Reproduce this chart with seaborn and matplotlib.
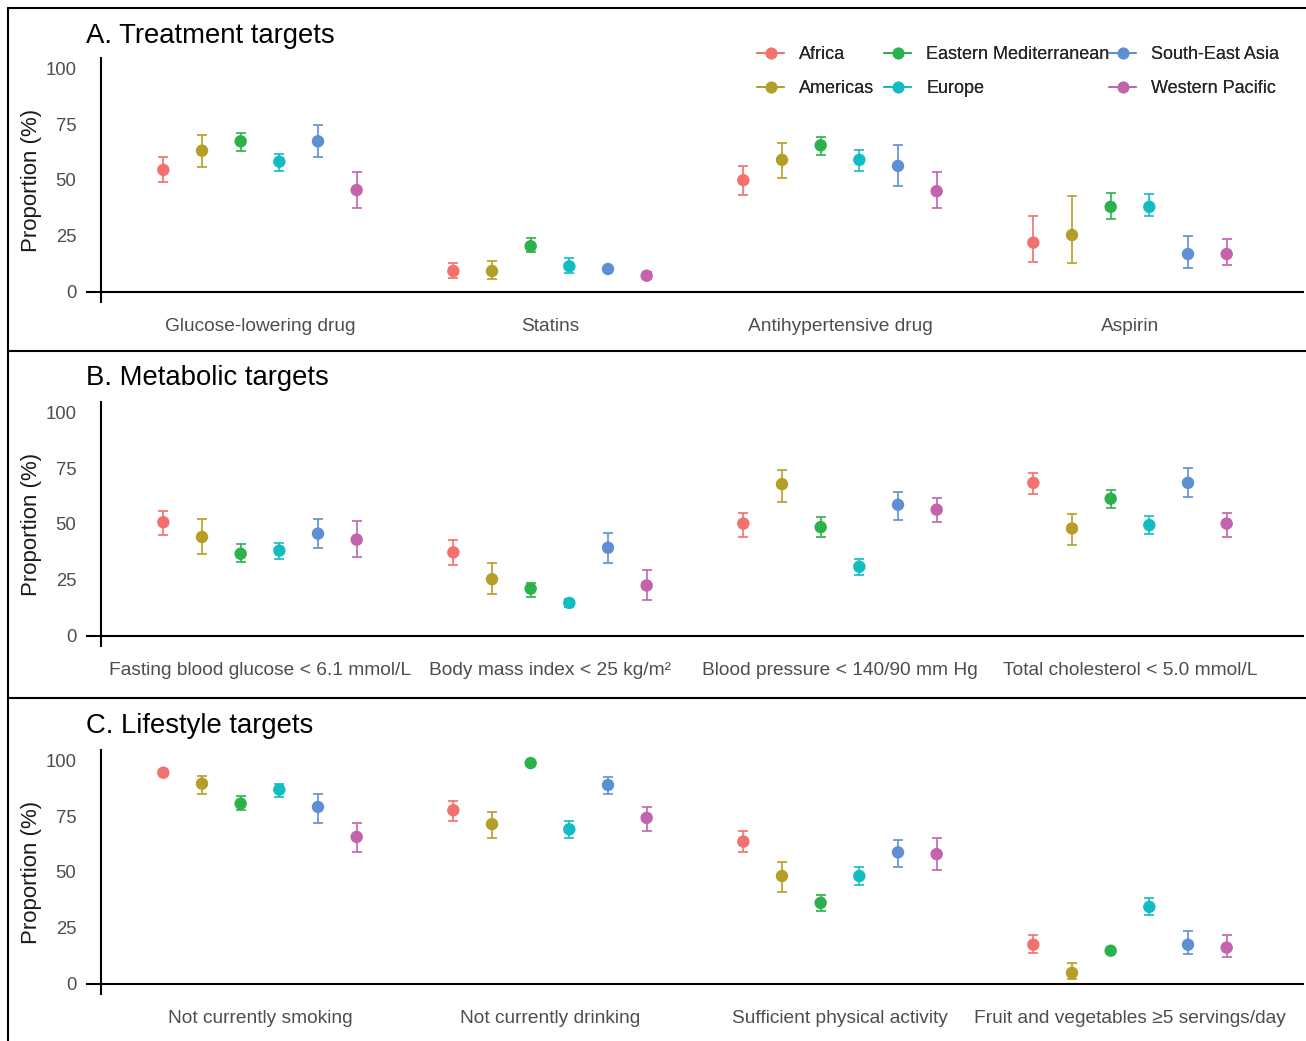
import numpy as np
import pandas as pd
import seaborn as sns
import matplotlib
matplotlib.use("Agg")
import matplotlib.pyplot as plt
from matplotlib.lines import Line2D

sns.set_theme(style="white")
plt.rcParams["font.family"] = ["Liberation Sans", "DejaVu Sans"]

# ---------------------------------------------------------------- data
regions = ["Africa", "Americas", "Eastern Mediterranean", "Europe",
           "South-East Asia", "Western Pacific"]
region_colors = ["#F2706E", "#B59E28", "#2BB24A", "#12BCC3", "#5F8FD3", "#C363AE"]

treat_targets = ["Glucose-lowering drug", "Statins", "Antihypertensive drug", "Aspirin"]
treat_est = {
    "Africa": [54.5, 9.3, 49.9, 22.0],
    "Americas": [63.1, 9.3, 59.0, 25.4],
    "Eastern Mediterranean": [67.3, 20.4, 65.5, 38.0],
    "Europe": [58.2, 11.4, 59.0, 38.0],
    "South-East Asia": [67.3, 10.2, 56.3, 16.9],
    "Western Pacific": [45.5, 7.2, 45.0, 16.9],
}
treat_lo = {
    "Africa": [49.1, 6.3, 43.5, 13.5],
    "Americas": [55.9, 5.7, 50.7, 12.7],
    "Eastern Mediterranean": [63.0, 17.6, 61.2, 32.4],
    "Europe": [53.9, 8.4, 54.1, 33.8],
    "South-East Asia": [60.3, 9.0, 47.1, 10.8],
    "Western Pacific": [37.6, 5.8, 37.3, 12.1],
}
treat_hi = {
    "Africa": [60.4, 12.7, 56.3, 33.8],
    "Americas": [70.2, 14.0, 66.7, 42.9],
    "Eastern Mediterranean": [71.0, 23.9, 69.1, 44.4],
    "Europe": [61.7, 15.0, 63.3, 43.7],
    "South-East Asia": [74.4, 11.4, 65.5, 24.8],
    "Western Pacific": [53.4, 8.8, 53.5, 23.4],
}

metab_targets = ["Fasting blood glucose < 6.1 mmol/L", "Body mass index < 25 kg/m\u00b2",
                 "Blood pressure < 140/90 mm Hg", "Total cholesterol < 5.0 mmol/L"]
metab_est = {
    "Africa": [50.8, 37.3, 50.2, 68.4],
    "Americas": [44.2, 25.3, 67.8, 48.0],
    "Eastern Mediterranean": [36.7, 21.1, 48.6, 61.3],
    "Europe": [38.1, 14.7, 30.9, 49.5],
    "South-East Asia": [45.7, 39.4, 58.6, 68.4],
    "Western Pacific": [43.0, 22.5, 56.4, 50.2],
}
metab_lo = {
    "Africa": [45.1, 31.6, 44.2, 63.4],
    "Americas": [36.6, 18.9, 59.8, 40.8],
    "Eastern Mediterranean": [33.0, 17.5, 44.2, 57.0],
    "Europe": [34.5, 13.0, 27.3, 45.7],
    "South-East Asia": [39.3, 32.4, 52.0, 62.1],
    "Western Pacific": [35.1, 16.0, 50.7, 44.2],
}
metab_hi = {
    "Africa": [55.8, 43.0, 55.0, 72.7],
    "Americas": [52.2, 32.4, 74.2, 54.4],
    "Eastern Mediterranean": [41.1, 23.5, 53.1, 65.1],
    "Europe": [41.7, 16.5, 34.5, 53.7],
    "South-East Asia": [52.2, 45.9, 64.3, 75.0],
    "Western Pacific": [51.4, 29.5, 61.5, 55.0],
}

life_targets = ["Not currently smoking", "Not currently drinking",
                "Sufficient physical activity", "Fruit and vegetables \u22655 servings/day"]
life_est = {
    "Africa": [94.4, 77.6, 63.6, 17.5],
    "Americas": [89.5, 71.4, 48.2, 4.9],
    "Eastern Mediterranean": [80.6, 98.7, 36.2, 14.8],
    "Europe": [86.8, 69.1, 48.2, 34.4],
    "South-East Asia": [79.1, 88.9, 58.8, 17.5],
    "Western Pacific": [65.7, 74.2, 58.0, 16.2],
}
life_lo = {
    "Africa": [93.4, 72.7, 58.8, 13.9],
    "Americas": [84.7, 65.0, 41.2, 2.2],
    "Eastern Mediterranean": [77.6, 97.8, 32.6, 13.8],
    "Europe": [83.4, 65.0, 44.1, 30.9],
    "South-East Asia": [72.1, 84.7, 52.4, 13.4],
    "Western Pacific": [58.8, 68.5, 51.0, 11.9],
}
life_hi = {
    "Africa": [95.4, 81.9, 68.5, 21.7],
    "Americas": [93.0, 77.0, 54.6, 9.2],
    "Eastern Mediterranean": [84.0, 99.5, 39.8, 15.8],
    "Europe": [89.5, 72.7, 52.4, 38.4],
    "South-East Asia": [84.7, 92.3, 64.4, 23.7],
    "Western Pacific": [72.1, 79.1, 65.0, 21.8],
}

y_ticks = [0, 25, 50, 75, 100]

# ---------------------------------------------------------------- layout
W, H = 1306, 1041
fig = plt.figure(figsize=(W / 100, H / 100), dpi=100)
fig.patch.set_facecolor("white")

AX_LEFT, AX_RIGHT, AX_H = 86, 1304, 246
DODGE = 0.8 / 6
TICK_GREY = "#4D4D4D"


def px_axes(top):
    return fig.add_axes([AX_LEFT / W, 1 - (top + AX_H) / H,
                         (AX_RIGHT - AX_LEFT) / W, AX_H / H])


def long_frame(targets, est, lo, hi):
    rows = []
    for ri, reg in enumerate(regions):
        for ci, tgt in enumerate(targets):
            rows.append({"region": reg, "target": tgt,
                         "x": ci + 1 + (ri - 2.5) * DODGE,
                         "est": est[reg][ci], "lo": lo[reg][ci], "hi": hi[reg][ci]})
    return pd.DataFrame(rows)


def draw_panel(top, title, title_base, targets, est, lo, hi):
    ax = px_axes(top)
    df = long_frame(targets, est, lo, hi)
    palette = dict(zip(regions, region_colors))
    for reg in regions:
        d = df[df["region"] == reg]
        ax.errorbar(d["x"], d["est"],
                    yerr=[d["est"] - d["lo"], d["hi"] - d["est"]],
                    fmt="none", ecolor=palette[reg], elinewidth=1.2,
                    capsize=3.6, capthick=1.2, zorder=2)
    sns.scatterplot(data=df, x="x", y="est", hue="region", hue_order=regions,
                    palette=palette, s=80, linewidth=0, legend=False,
                    ax=ax, zorder=3)
    ax.set_xlim(0.4, 4.6)
    ax.set_ylim(-5, 105)
    ax.set_xticks(range(1, 5))
    ax.set_xticklabels(targets)
    ax.set_yticks(y_ticks)
    ax.set_yticklabels([str(t) for t in y_ticks])
    ax.tick_params(axis="x", length=0, pad=10.5, labelsize=13.8, labelcolor=TICK_GREY)
    ax.tick_params(axis="y", length=0, pad=7, labelsize=13.3, labelcolor=TICK_GREY)
    for s in ax.spines.values():
        s.set_visible(False)
    ax.axhline(0, color="black", lw=1.5, zorder=1)
    ax.axvline(0.45, color="black", lw=1.5, zorder=1)
    ax.set_xlabel("")
    ax.set_ylabel("Proportion (%)", fontsize=16, color="#1a1a1a")
    ax.yaxis.label.set_va("center")
    ax.yaxis.set_label_coords((31 - AX_LEFT) / (AX_RIGHT - AX_LEFT), 0.5)
    ax.set_facecolor("none")
    fig.text(AX_LEFT / W, 1 - title_base / H, title, fontsize=19.8,
             ha="left", va="baseline", color="black")
    return ax


ax_a = draw_panel(57, "A. Treatment targets", 43, treat_targets, treat_est, treat_lo, treat_hi)
ax_b = draw_panel(401, "B. Metabolic targets", 385, metab_targets, metab_est, metab_lo, metab_hi)
ax_c = draw_panel(749, "C. Lifestyle targets", 733, life_targets, life_est, life_lo, life_hi)

# legend for the regions: three columns of two keys each
legend_cols_x = [757, 884, 1109]
for col, x0 in enumerate(legend_cols_x):
    idx = [2 * col, 2 * col + 1]
    handles = [Line2D([0], [0], color=region_colors[i], lw=1.3, marker="o",
                      markersize=8.5, markeredgewidth=0) for i in idx]
    leg = fig.legend(handles, [regions[i] for i in idx], loc="upper left",
                     bbox_to_anchor=(x0 / W, 1 - 46 / H), ncol=1, frameon=False,
                     fontsize=13, handlelength=1.5, handletextpad=0.85,
                     labelspacing=0.95, borderpad=0, borderaxespad=0)
    fig.add_artist(leg)

# panel frames
def fig_line(x0, y0, x1, y1):
    fig.add_artist(Line2D([x0 / W, x1 / W], [1 - y0 / H, 1 - y1 / H],
                          transform=fig.transFigure, color="black", lw=1.5))

fig_line(8, 8, 8, H)
fig_line(8, 8, W, 8)
fig_line(8, 351, W, 351)
fig_line(8, 698, W, 698)

fig.savefig("out.png", dpi=100, facecolor="white")
